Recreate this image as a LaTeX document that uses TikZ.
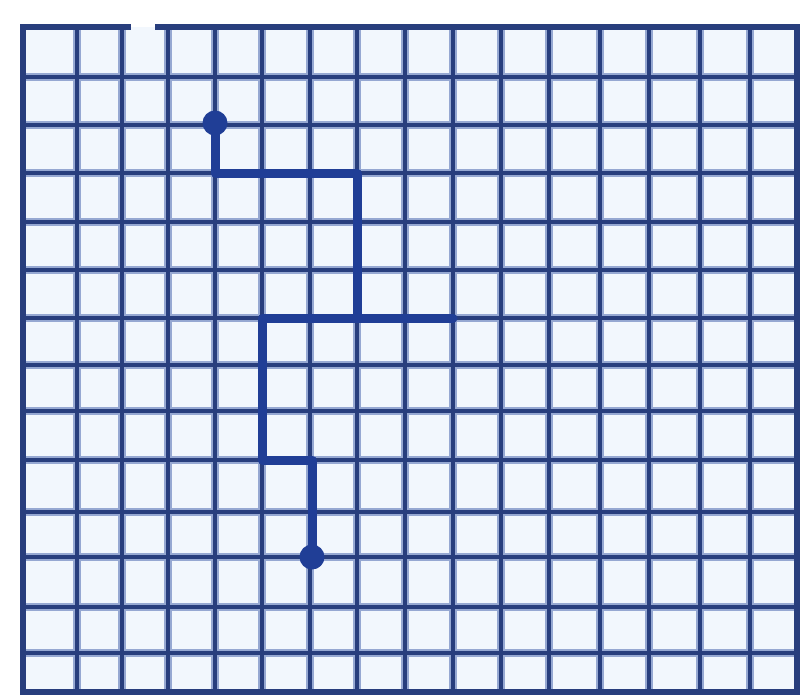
\documentclass[tikz,border=0pt]{standalone}
\definecolor{gridblue}{RGB}{40,62,125}
\definecolor{gridhalo}{RGB}{150,168,210}
\definecolor{pathblue}{RGB}{32,62,150}
\definecolor{paper}{RGB}{242,247,253}
\begin{document}
\begin{tikzpicture}[x=1pt,y=-1pt,
  gridhalo/.style={line width=8pt, draw=gridhalo},
  gridline/.style={line width=3.8pt, draw=gridblue},
  borderline/.style={line width=5.5pt, draw=gridblue, line cap=rect},
  pathline/.style={line width=9pt, draw=pathblue, line cap=round, line join=round},
  enddot/.style={circle, fill=pathblue, inner sep=0pt, minimum size=25pt}]
\useasboundingbox (0,0) rectangle (802,698);
\fill[white] (0,0) rectangle (802,698);
\fill[paper] (23,27) rectangle (797,692);
% grid: soft halo under a darker core
\foreach \x in {77,122,168,215,262,310,357,405,453,501,549,600,649,700,750}
  \draw[gridhalo] (\x,27) -- (\x,692);
\foreach \y in {77,125,173,222,270,318,365,411,460,512,557,607,653}
  \draw[gridhalo] (23,\y) -- (797,\y);
\foreach \x in {77,122,168,215,262,310,357,405,453,501,549,600,649,700,750}
  \draw[gridline] (\x,27) -- (\x,692);
\foreach \y in {77,125,173,222,270,318,365,411,460,512,557,607,653}
  \draw[gridline] (23,\y) -- (797,\y);
% outer border with entrance gap
\draw[borderline] (128,27) -- (23,27) -- (23,692) -- (797,692) -- (797,27) -- (158,27);
% path
\coordinate (b) at (215,173);
\coordinate (c) at (357,173);
\coordinate (d) at (357,318);
\coordinate (e) at (453,318);
\coordinate (f) at (262,318);
\coordinate (g) at (262,460);
\coordinate (h) at (312,460);
\node[enddot] (start) at (215,123) {};
\node[enddot] (finish) at (312,557) {};
\draw[pathline] (start.center) -- (b) -- (c) -- (d);
\draw[pathline] (e) -- (f) -- (g) -- (h) -- (finish.center);
\end{tikzpicture}
\end{document}
